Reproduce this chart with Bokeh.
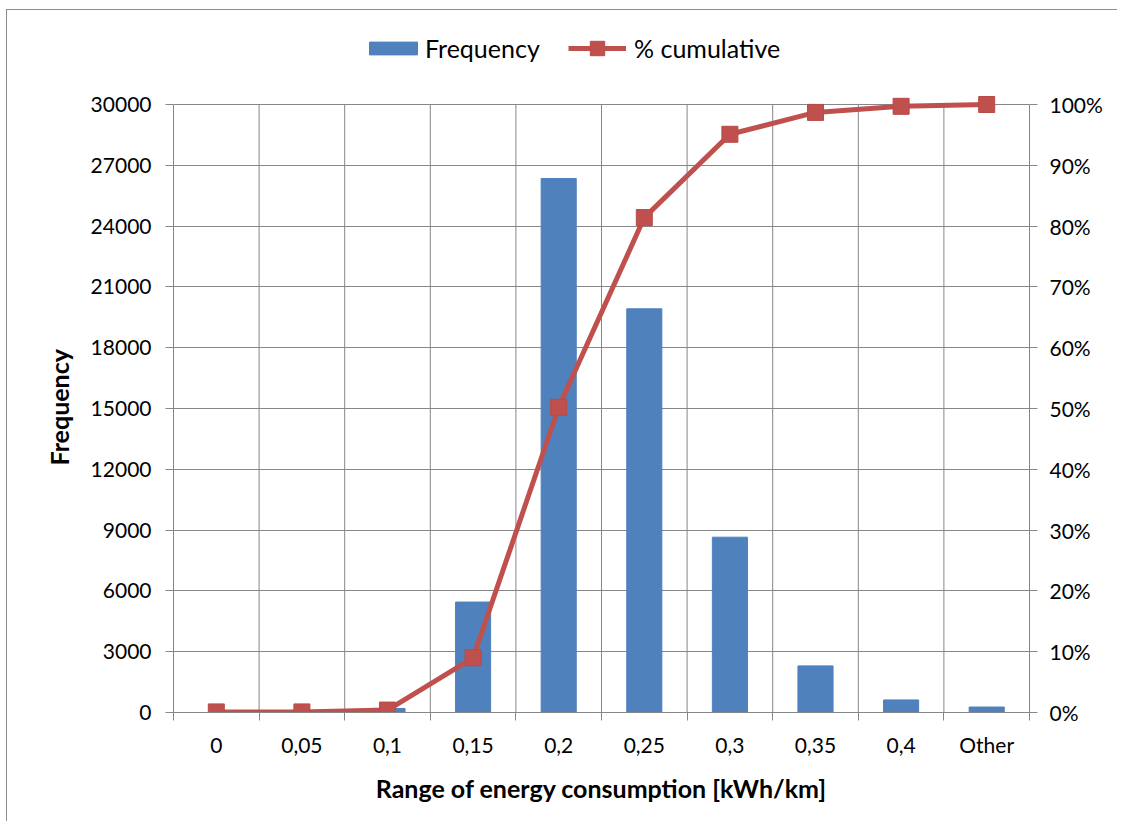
from bokeh.plotting import figure
from bokeh.models import (Range1d, LinearAxis, FixedTicker, NumeralTickFormatter,
                          Legend, LegendItem, ColumnDataSource, Title)
from bokeh.embed import file_html
from bokeh.resources import INLINE

categories = ["0", "0,05", "0,1", "0,15", "0,2", "0,25", "0,3", "0,35", "0,4", "Other"]
frequency = [0, 0, 200, 5450, 26350, 19920, 8650, 2300, 620, 270]
cumulative_pct = [0.001, 0.001, 0.004, 0.090, 0.502, 0.814, 0.951, 0.987, 0.997, 1.0]
freq_ticks = list(range(0, 30001, 3000))
pct_ticks = [i / 10 for i in range(11)]

FONT = "Lato"
GRID = "#878787"
BAR = "#4F81BD"
LINE = "#C0504D"

FREQ_MAX = 30000
# extra headroom above the plotting area so the legend can sit inside the frame
HEAD = 692 / 608
xs = [i + 0.5 for i in range(len(categories))]
bounds = list(range(len(categories) + 1))
src = ColumnDataSource(dict(x=xs, freq=frequency, pct=cumulative_pct, cat=categories))
gsrc = ColumnDataSource(dict(x=bounds, y0=[0] * len(bounds), y1=[FREQ_MAX] * len(bounds)))

p = figure(width=1111, height=812, output_backend="svg", toolbar_location=None,
           x_range=Range1d(0, len(categories)), y_range=Range1d(0, FREQ_MAX * HEAD),
           min_border_left=166, min_border_right=89, min_border_top=10, min_border_bottom=110)
p.outline_line_color = None
p.styles = {"border-left": "1px solid #8c8c8c", "border-top": "1px solid #8c8c8c",
            "margin-left": "6px", "margin-top": "9px"}

p.extra_y_ranges = {"pct": Range1d(0, HEAD)}

p.xgrid.visible = False
p.segment(x0="x", y0="y0", x1="x", y1="y1", source=gsrc, line_color=GRID, line_width=1)
p.ygrid.ticker = FixedTicker(ticks=freq_ticks)
p.ygrid.grid_line_color = GRID

bars = p.vbar(x="x", top="freq", width=0.41, source=src, fill_color=BAR, line_color=BAR)
line = p.line(x="x", y="pct", source=src, y_range_name="pct", line_color=LINE, line_width=5)
marks = p.scatter(x="x", y="pct", source=src, y_range_name="pct", marker="square", size=16,
                  fill_color=LINE, line_color="#B84A47")

# x axis
xa = p.xaxis[0]
xa.ticker = FixedTicker(ticks=xs, minor_ticks=bounds)
xa.major_label_overrides = {x: c for x, c in zip(xs, categories)}
xa.major_tick_out = 0
xa.major_tick_in = 0
xa.minor_tick_out = 8
xa.minor_tick_in = 0
xa.minor_tick_line_color = GRID
xa.axis_line_color = GRID
xa.major_label_text_font = FONT
xa.major_label_text_font_size = "21px"
xa.major_label_text_color = "#000000"
xa.major_label_standoff = 11
xa.axis_label = "Range of energy consumption [kWh/km]"
xa.axis_label_text_font = FONT
xa.axis_label_text_font_size = "25px"
xa.axis_label_text_font_style = "bold"
xa.axis_label_text_color = "#000000"
xa.axis_label_standoff = 13

# left axis
ya = p.yaxis[0]
ya.ticker = FixedTicker(ticks=freq_ticks)
ya.bounds = (0, FREQ_MAX)
ya.major_tick_out = 8
ya.major_tick_in = 0
ya.major_tick_line_color = GRID
ya.minor_tick_line_color = None
ya.axis_line_color = GRID
ya.major_label_text_font = FONT
ya.major_label_text_font_size = "21px"
ya.major_label_text_color = "#000000"
ya.major_label_standoff = 14

# left axis title, centred on the 0..30000 part of the frame
ytitle = Title(text="Frequency", align="left", vertical_align="middle", offset=247,
               text_font=FONT, text_font_size="25px", text_font_style="bold",
               text_color="#000000", standoff=26)
p.add_layout(ytitle, "left")

# right axis
ra = LinearAxis(y_range_name="pct", ticker=FixedTicker(ticks=pct_ticks),
                formatter=NumeralTickFormatter(format="0%"), bounds=(0, 1))
ra.major_tick_out = 8
ra.major_tick_in = 0
ra.major_tick_line_color = GRID
ra.minor_tick_line_color = None
ra.axis_line_color = GRID
ra.major_label_text_font = FONT
ra.major_label_text_font_size = "21px"
ra.major_label_text_color = "#000000"
ra.major_label_standoff = 12
p.add_layout(ra, "right")


def style_legend(lg):
    lg.border_line_alpha = 0
    lg.background_fill_alpha = 0
    lg.padding = 0
    lg.margin = 0
    lg.label_text_font = FONT
    lg.label_text_font_size = "25px"
    lg.label_text_color = "#000000"


legend1 = Legend(items=[LegendItem(label="Frequency", renderers=[bars])],
                 orientation="horizontal", location=(190, 649))
style_legend(legend1)
legend1.glyph_width = 60
legend1.glyph_height = 16
legend1.label_standoff = 2
p.add_layout(legend1, "center")

legend2 = Legend(items=[LegendItem(label="% cumulative", renderers=[line, marks])],
                 orientation="horizontal", location=(395, 646))
style_legend(legend2)
legend2.glyph_width = 58
legend2.glyph_height = 36
legend2.label_standoff = 8
p.add_layout(legend2, "center")

open("out.html", "w").write(file_html(p, INLINE))
